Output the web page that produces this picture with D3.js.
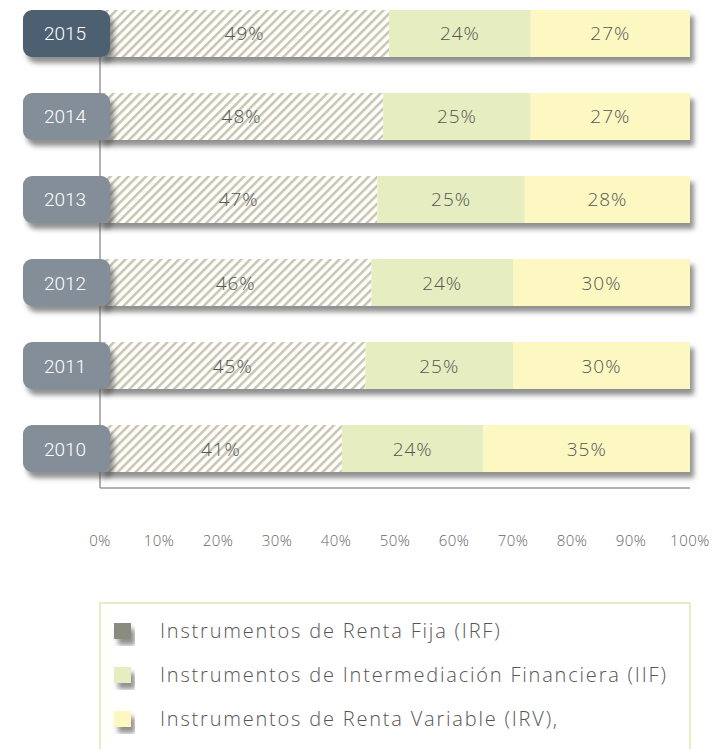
<!DOCTYPE html>
<html>
<head>
<meta charset="utf-8">
<script src="https://cdn.jsdelivr.net/npm/d3@7"></script>
<style>
body { margin: 0; background: #fff; }
</style>
</head>
<body>
<div id="canvas"></div>
<script>
// data
const years = ["2015", "2014", "2013", "2012", "2011", "2010"]
const irf = [49, 48, 47, 46, 45, 41]
const iif = [24, 25, 25, 24, 25, 24]
const irv = [27, 27, 28, 30, 30, 35]
const ticks = [0, 10, 20, 30, 40, 50, 60, 70, 80, 90, 100]
const legendLabels = ["Instrumentos de Renta Fija (IRF)", "Instrumentos de Intermediación Financiera (IIF)", "Instrumentos de Renta Variable (IRV),"]
const legendColors = ["#8a8c80", "#e6edc0", "#fdf8c2"]

const svg = d3.select("#canvas").append("svg").attr("width", 723).attr("height", 749)

const defs = svg.append("defs")
const hatch = defs.append("pattern").attr("id", "hatch").attr("patternUnits", "userSpaceOnUse")
  .attr("width", 6.3).attr("height", 6.3).attr("patternTransform", "rotate(45)")
hatch.append("rect").attr("width", 6.3).attr("height", 6.3).attr("fill", "#fff")
hatch.append("rect").attr("width", 2.5).attr("height", 6.3).attr("fill", "#c9c6b0")

const shadow = defs.append("filter").attr("id", "shadow").attr("x", "-10%").attr("y", "-20%").attr("width", "130%").attr("height", "160%")
shadow.append("feDropShadow").attr("dx", 4).attr("dy", 6).attr("stdDeviation", 2.5)
  .attr("flood-color", "#555").attr("flood-opacity", 0.65)

const font = "'Open Sans', sans-serif"

const x = d3.scaleLinear().domain([0, 100]).range([100, 690])
const y = d3.scaleBand().domain(years).range([10, 472]).paddingInner(0.434).paddingOuter(0)

// axis lines
svg.append("line").attr("x1", x(0)).attr("x2", x(0)).attr("y1", 57).attr("y2", 488).attr("stroke", "#999").attr("stroke-width", 1.5)
svg.append("line").attr("x1", x(0)).attr("x2", x(100)).attr("y1", 488).attr("y2", 488).attr("stroke", "#999").attr("stroke-width", 1.5)

// stacked rows
const rows = years.map((yr, i) => ({ year: yr, vals: [irf[i], iif[i], irv[i]] }))
const fills = ["url(#hatch)", "#e6edc0", "#fdf8c2"]

const row = svg.selectAll(".row").data(rows).enter().append("g").attr("class", "row")

row.append("rect")
  .attr("x", x(0)).attr("y", d => y(d.year))
  .attr("width", x(100) - x(0)).attr("height", y.bandwidth())
  .attr("fill", "#fff").attr("filter", "url(#shadow)")

row.each(function (d) {
  let acc = 0
  const g = d3.select(this)
  d.vals.forEach((v, k) => {
    g.append("rect").attr("x", x(acc)).attr("y", y(d.year))
      .attr("width", x(acc + v) - x(acc)).attr("height", y.bandwidth())
      .attr("fill", fills[k])
    g.append("text").attr("x", x(acc + v / 2)).attr("y", y(d.year) + y.bandwidth() / 2 + 7)
      .attr("text-anchor", "middle").attr("font-family", font).attr("font-weight", 300)
      .attr("font-size", 19).attr("letter-spacing", 1).attr("fill", "#555").text(v + "%")
    acc += v
  })
})

// year labels
row.append("rect")
  .attr("x", 23).attr("y", d => y(d.year)).attr("width", 87).attr("height", y.bandwidth())
  .attr("rx", 9).attr("fill", (d, i) => i === 0 ? "#4e6072" : "#838e99")
  .attr("filter", "url(#shadow)")
row.append("text")
  .attr("x", 65).attr("y", d => y(d.year) + y.bandwidth() / 2 + 7)
  .attr("text-anchor", "middle").attr("font-family", "Roboto").attr("font-weight", 300)
  .attr("font-size", 19).attr("fill", "#fff").text(d => d.year)

// tick labels
svg.selectAll(".tick").data(ticks).enter().append("text")
  .attr("x", d => x(d)).attr("y", 546).attr("text-anchor", "middle")
  .attr("font-family", font).attr("font-weight", 300).attr("font-size", 15)
  .attr("letter-spacing", 0.5).attr("fill", "#666").text(d => d + "%")

// legend
svg.append("rect").attr("x", 100).attr("y", 603).attr("width", 590).attr("height", 160)
  .attr("fill", "none").attr("stroke", "#e6edc0").attr("stroke-width", 2)

const leg = svg.selectAll(".leg").data(legendLabels).enter().append("g")
  .attr("transform", (d, i) => `translate(114, ${623 + i * 44})`)
leg.append("rect").attr("width", 17).attr("height", 16)
  .attr("fill", (d, i) => legendColors[i]).attr("filter", "url(#shadow)")
leg.append("text").attr("x", 46).attr("y", 15)
  .attr("font-family", font).attr("font-weight", 300).attr("font-size", 20)
  .attr("letter-spacing", 1.8).attr("fill", "#555").text(d => d)
</script>
</body>
</html>
